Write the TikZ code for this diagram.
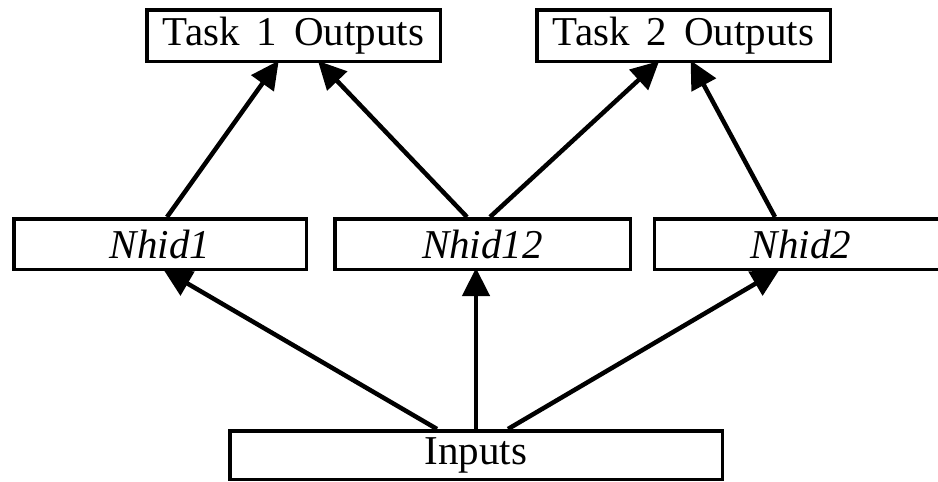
\documentclass[tikz,border=0pt]{standalone}
\usepackage{fontspec}
\setmainfont{Liberation Serif}
\usetikzlibrary{arrows.meta,backgrounds}

\begin{document}
\begin{tikzpicture}[x=1pt, y=-1pt,
    box/.style={rectangle, draw, line width=3.5pt, fill=white, inner sep=0pt,
                font=\fontsize{41}{44}\selectfont},
    feed/.style={-{Triangle[length=28pt,width=27pt]}, line width=4.5pt, shorten >=-3pt}]
        \useasboundingbox (0,0) rectangle (938,482);

          % outputs of the two tasks
          \node[box, minimum width=293.5pt, minimum height=51.5pt] (t1) at (293.5,35.5) {Task\, 1\, Outputs};
          \node[box, minimum width=293.5pt, minimum height=51.5pt] (t2) at (683.5,35.5) {Task\, 2\, Outputs};

          % hidden layer
          \node[box, minimum width=292.5pt, minimum height=50.5pt] (h1) at (160,244) {\itshape Nhid1};
          \node[box, minimum width=295.5pt, minimum height=50.5pt] (h12) at (482.5,244) {\itshape Nhid12};
          \node[box, minimum width=293.5pt, minimum height=50.5pt] (h2) at (801,244) {\itshape Nhid2};

          % inputs
          \node[box, minimum width=492.5pt, minimum height=48.5pt] (in) at (476,455) {Inputs};

          \begin{scope}[on background layer]
            \draw[feed] ([xshift=-39pt]in.north) -- ([xshift=6pt]h1.south);
            \draw[feed] (in.north) -- ([xshift=-6.5pt]h12.south);
            \draw[feed] ([xshift=32pt]in.north) -- ([xshift=-24pt]h2.south);

            \draw[feed] ([xshift=7pt]h1.north) -- ([xshift=-16.5pt]t1.south);
            \draw[feed] ([xshift=-15.5pt]h12.north) -- ([xshift=26.5pt]t1.south);
            \draw[feed] ([xshift=7.5pt]h12.north) -- ([xshift=-26.5pt]t2.south);
            \draw[feed] ([xshift=-26pt]h2.north) -- ([xshift=8.5pt]t2.south);
          \end{scope}

        \end{tikzpicture}
\end{document}
